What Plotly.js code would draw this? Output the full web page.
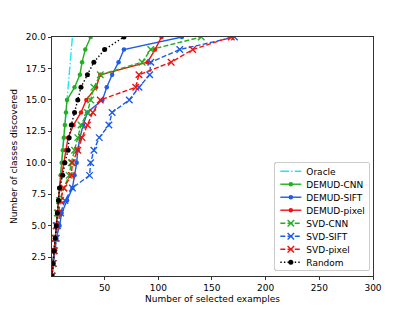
<!DOCTYPE html>
<html>
<head>
<meta charset="utf-8">
<script src="https://cdn.plot.ly/plotly-3.0.1.min.js"></script>
<style>html,body{margin:0;padding:0;background:#fff;}#chart{width:415px;height:311px;}</style>
</head>
<body>
<div id="chart"></div>
<script>
// Classes discovered (y) and the number of selected examples (x) at which each was found
const classes = [1,2,3,4,5,6,7,8,9,10,11,12,13,14,15,16,17,18,19,20];
const oracleX   = [1,2,3,4,5,6,7,8,9,10,11,12,13,14,15,16,17,18,19,20];
const demudCnnX   = [1,2,3,4,5,6,7,8,9,10,11,12,13,14,15,22,27,29,32,37];
const demudSiftX  = [1,2,4,5,8,10,15,20,22,24,25,27,30,34,48,52,57,63,68,122];
const demudPixelX = [1,2,3,4,5,6,7,8,10,12,14,16,21,28,33,42,46,90,97,103];
const svdCnnX     = [1,2,3,4,5,6,8,12,17,19,22,25,28,34,37,40,46,85,93,140];
const svdSiftX    = [1,2,3,5,6,9,13,20,36,37,40,45,54,57,73,82,92,93,120,171];
const svdPixelX   = [1,2,3,4,5,7,9,12,19,20,25,29,34,39,46,79,82,112,132,168];
const randomX     = [1,2,3,4,5,6,7,8,11,13,16,17,19,22,25,28,34,40,50,68];
const seriesNames = ["Oracle","DEMUD-CNN","DEMUD-SIFT","DEMUD-pixel","SVD-CNN","SVD-SIFT","SVD-pixel","Random"];
const xTicks = [50,100,150,200,250,300];
const yTicks = [2.5,5,7.5,10,12.5,15,17.5,20];

const GREEN = '#22b022', BLUE = '#1c5ce6', RED = '#f01212', CYAN = '#1ee6f0';
const DASH = '5px,2.2px', DOT = '1.4px,2.2px', DASHDOT = '8.6px,2.2px,1.4px,2.2px';

function demud(name, xs, color) {
  return {x: xs, y: classes, name: name, type: 'scatter', mode: 'lines+markers',
    line: {color: color, width: 1.4}, marker: {symbol: 'circle', size: 4.5, color: color}};
}
function svd(name, xs, color) {
  return {x: xs, y: classes, name: name, type: 'scatter', mode: 'lines+markers',
    line: {color: color, width: 1.4, dash: DASH},
    marker: {symbol: 'x-thin-open', size: 6.5, color: color, line: {color: color, width: 1.4}}};
}
const traces = [
  {x: oracleX, y: classes, name: seriesNames[0], type: 'scatter', mode: 'lines',
   line: {color: CYAN, width: 1.4, dash: DASHDOT}},
  demud(seriesNames[1], demudCnnX, GREEN),
  demud(seriesNames[2], demudSiftX, BLUE),
  demud(seriesNames[3], demudPixelX, RED),
  svd(seriesNames[4], svdCnnX, GREEN),
  svd(seriesNames[5], svdSiftX, BLUE),
  svd(seriesNames[6], svdPixelX, RED),
  {x: randomX, y: classes, name: seriesNames[7], type: 'scatter', mode: 'lines+markers',
   line: {color: '#000000', width: 1.4, dash: DOT}, marker: {symbol: 'circle', size: 5, color: '#000000'}}
];

const font = {family: 'DejaVu Sans, sans-serif', size: 9, color: '#000'};
const layout = {
  width: 415, height: 311,
  margin: {l: 52, r: 42, t: 37, b: 35, pad: 0},
  paper_bgcolor: '#fff', plot_bgcolor: '#fff',
  font: font,
  showlegend: true,
  xaxis: {range: [1, 300], tickvals: xTicks, ticks: 'outside', ticklen: 3.5, tickwidth: 0.8,
    tickcolor: '#000', showline: true, linecolor: '#000', linewidth: 0.8, mirror: true,
    showgrid: false, zeroline: false, tickfont: font,
    title: {text: 'Number of selected examples', font: font, standoff: 3}},
  yaxis: {range: [1, 20], tickvals: yTicks, tickformat: '.1f', ticks: 'outside', ticklen: 3.5, tickwidth: 0.8,
    tickcolor: '#000', showline: true, linecolor: '#000', linewidth: 0.8, mirror: true,
    showgrid: false, zeroline: false, tickfont: font,
    title: {text: 'Number of classes discovered', font: font, standoff: 6}},
  legend: {x: 0.99, xanchor: 'right', y: 0.02, yanchor: 'bottom', bgcolor: 'rgba(255,255,255,0.85)',
    bordercolor: '#cccccc', borderwidth: 1, font: font, tracegroupgap: 0}
};

// Compact the legend to matplotlib-like spacing (13 px rows, short samples)
function compactLegend(gd) {
  try {
    const leg = gd.querySelector('g.legend');
    if (!leg) return;
    const bg = leg.querySelector('rect.bg');
    const items = leg.querySelectorAll('g.traces');
    const H0 = parseFloat(bg.getAttribute('height'));
    const W0 = parseFloat(bg.getAttribute('width'));
    const step = 13, top = 9.5;
    let maxW = 0;
    items.forEach((it, i) => {
      it.setAttribute('transform', 'translate(0,' + (top + i * step) + ')');
      it.querySelectorAll('g.legendlines path').forEach(p => p.setAttribute('d', 'M6,0h21'));
      it.querySelectorAll('g.legendpoints path').forEach(p => p.setAttribute('transform', 'translate(16.5,0)'));
      const t = it.querySelector('text.legendtext');
      if (t) { t.setAttribute('x', 32); maxW = Math.max(maxW, t.getBBox().width); }
    });
    const newH = top + (items.length - 1) * step + 8;
    const newW = 32 + maxW + 4;
    bg.setAttribute('height', newH);
    bg.setAttribute('width', newW);
    bg.setAttribute('rx', 2); bg.setAttribute('ry', 2);
    const m = /translate\(([-\d.]+)[ ,]+([-\d.]+)\)/.exec(leg.getAttribute('transform'));
    if (m) {
      const lx = parseFloat(m[1]) + (W0 - newW);
      const ly = parseFloat(m[2]) + (H0 - newH);
      leg.setAttribute('transform', 'translate(' + lx + ',' + ly + ')');
    }
    leg.querySelectorAll('clipPath rect').forEach(r => { r.setAttribute('height', newH + 20); r.setAttribute('width', newW + 20); });
    const sb = leg.querySelector('g.scrollbox');
    if (sb) sb.removeAttribute('clip-path');
  } catch (e) { /* keep default legend */ }
}

Plotly.newPlot('chart', traces, layout, {staticPlot: true, displayModeBar: false}).then(compactLegend);
</script>
</body>
</html>
